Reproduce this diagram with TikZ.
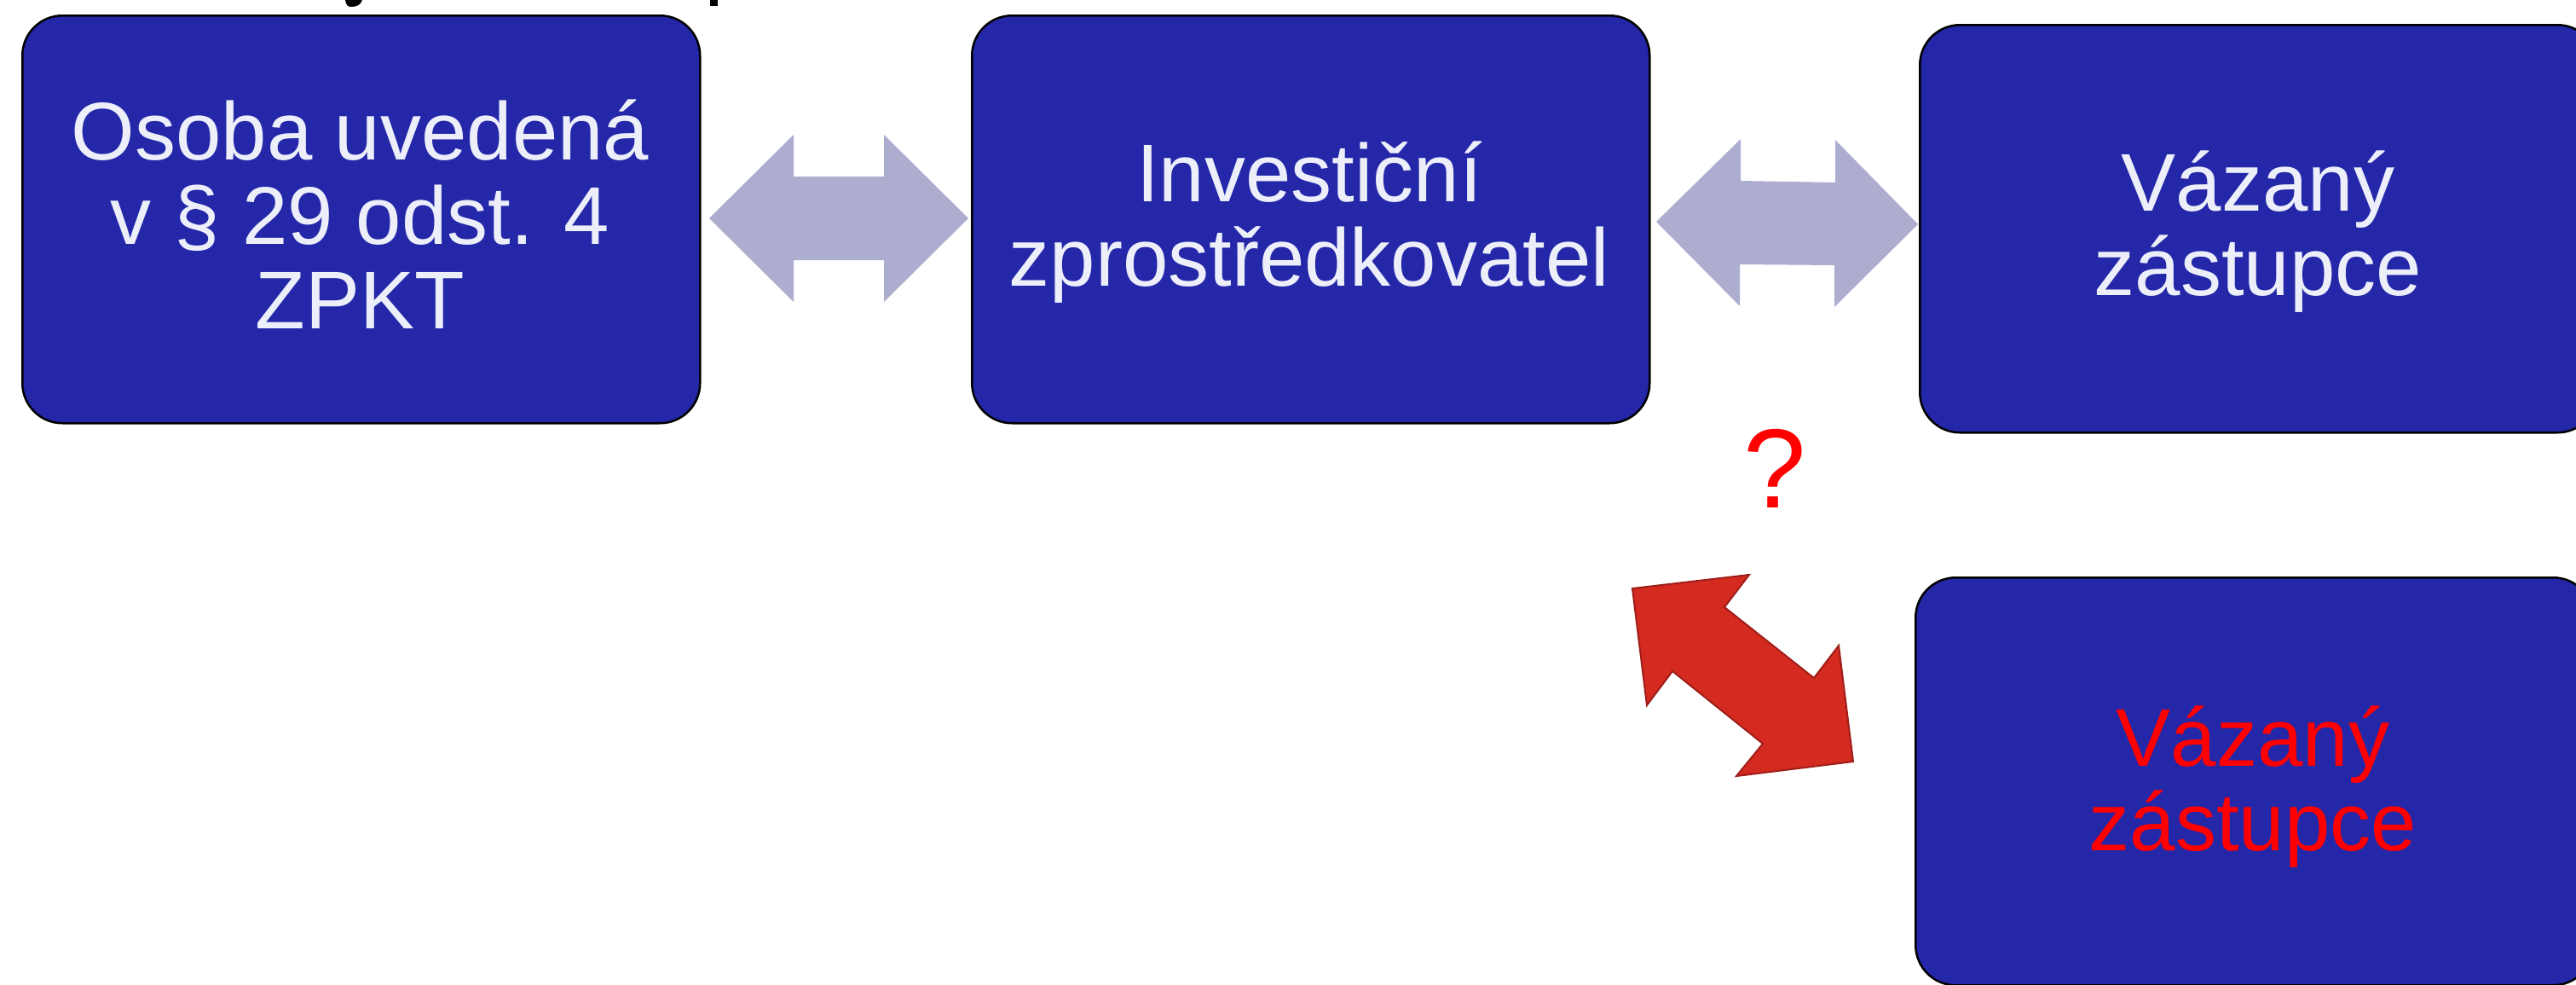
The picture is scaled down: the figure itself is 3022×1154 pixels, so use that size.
\documentclass[tikz,border=0pt]{standalone}
\usepackage{fontspec}
\setmainfont{Liberation Sans}
\definecolor{boxblue}{RGB}{36,39,168}
\definecolor{boxtext}{RGB}{236,238,250}
\definecolor{greyarrow}{RGB}{173,173,208}
\definecolor{redfill}{RGB}{212,42,31}
\definecolor{redline}{RGB}{158,30,25}
\definecolor{qred}{RGB}{255,0,0}
\tikzset{
  bluebox/.style={draw=black, line width=2.5pt, fill=boxblue, rounded corners=47pt,
    minimum width=795pt, minimum height=478pt, inner sep=0pt, anchor=north west},
  boxlabel/.style={text=boxtext, inner sep=0pt, anchor=base,
    font=\fontsize{96}{99}\selectfont},
  greyblock/.style={fill=greyarrow},
  redblock/.style={fill=redfill, draw=redline, line width=2pt, line join=miter},
}
\begin{document}
\begin{tikzpicture}[x=1pt,y=-1pt]
\useasboundingbox (0,0) rectangle (3022,1154);
\clip (0,0) rectangle (3022,1154);
\fill[white] (0,0) rectangle (3022,1154);
% fragments of the cut-off title
\fill[black] (405,0) -- (425,0) .. controls (423,6) and (418,8) .. (412,8) .. controls (408,8) and (406,6) .. (405,0) -- cycle;
\fill[black] (833,0) rectangle (842,7);
% boxes
\node[bluebox] (A) at (25,17) {};
\node[bluebox] (B) at (1139,17) {};
\node[bluebox] (C) at (2251,28) {};
\node[bluebox] (D) at (2246,676) {};
% labels
\node[boxlabel] (tA) at (422.5,187) {\parbox[t]{780pt}{\centering Osoba uvedená\\v § 29 odst. 4\\ZPKT}};
\node[boxlabel] (tB) at (1536,236) {\parbox[t]{780pt}{\centering Investiční\\zprostředkovatel}};
\node[boxlabel] (tC) at (2649,247) {\parbox[t]{780pt}{\centering Vázaný\\zástupce}};
\node[boxlabel, text=qred] (tD) at (2643,898) {\parbox[t]{780pt}{\centering Vázaný\\zástupce}};
% grey double arrows
\fill[greyblock] (832,256) -- (931,158) -- (931,207) -- (1037,207) -- (1037,158) -- (1136,256)
  -- (1037,354) -- (1037,305) -- (931,305) -- (931,354) -- cycle;
\fill[greyblock] (1943,260) -- (2042,163) -- (2042,212) -- (2153,214) -- (2153,164) -- (2250,263)
  -- (2152,360) -- (2152,311) -- (2041,310) -- (2041,359) -- cycle;
% red double arrow
\draw[redblock] (1915,690) -- (2052,674) -- (2023,712) -- (2128,795) -- (2157,757) -- (2174,893)
  -- (2037,910) -- (2068,872) -- (1962,787) -- (1932,827) -- cycle;
% question mark
\node[text=qred, inner sep=0pt, anchor=base, font=\fontsize{132}{132}\selectfont] (q) at (2082,595) {?};
\end{tikzpicture}
\end{document}
